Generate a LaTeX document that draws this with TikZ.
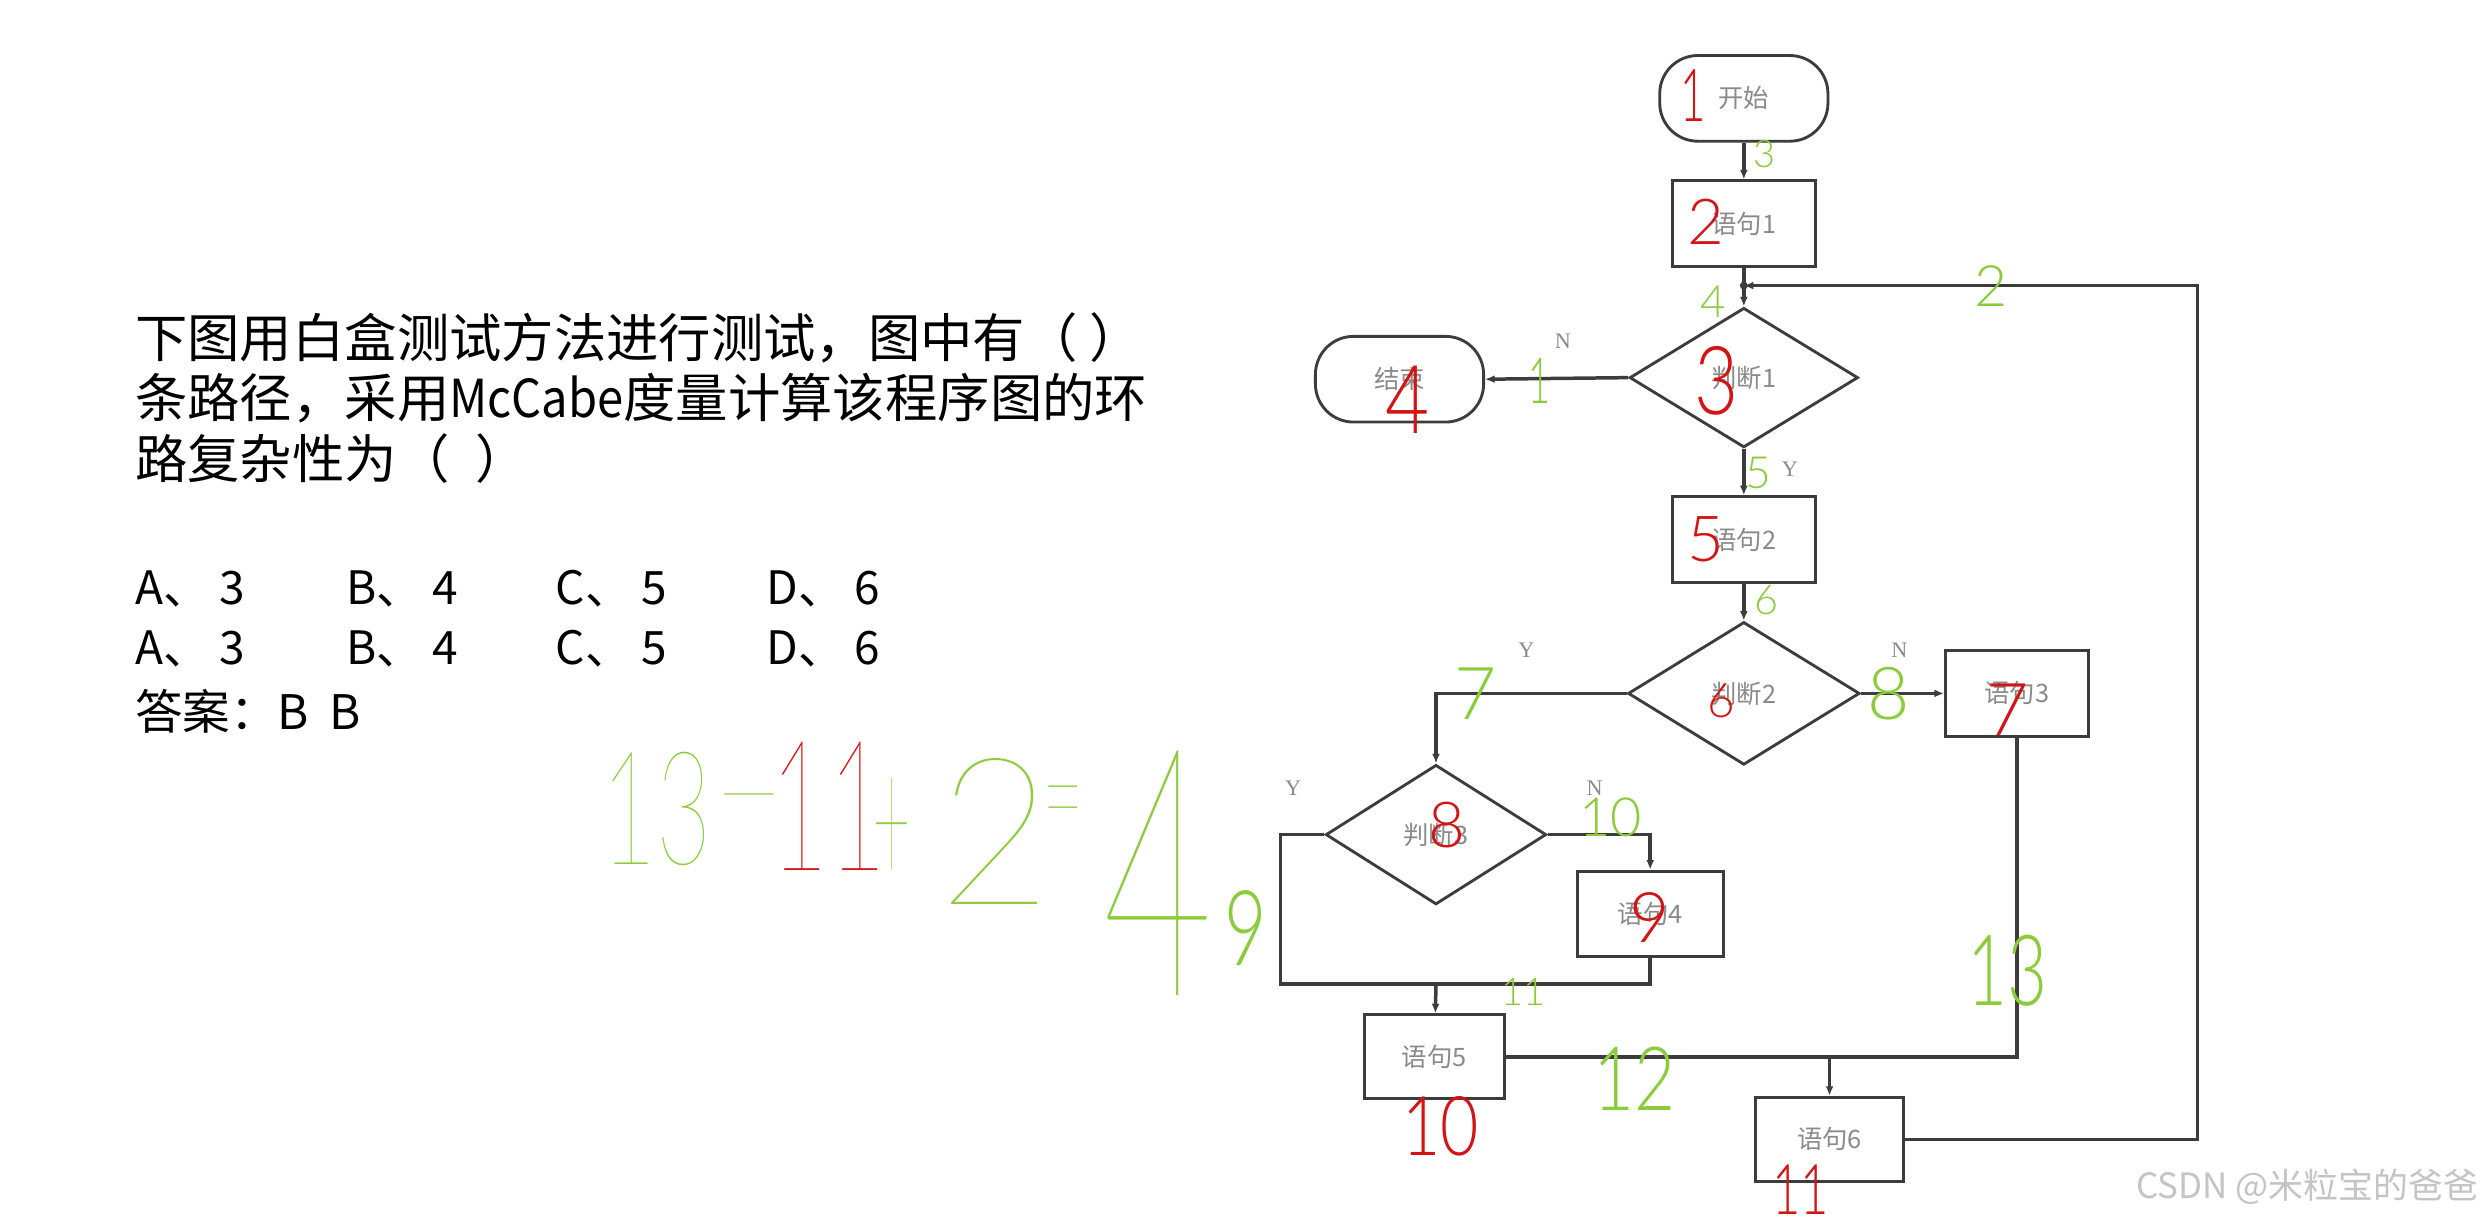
\documentclass[tikz,border=0pt]{standalone}
\usepackage{fontspec}
\usepackage{graphicx}
\setmainfont{Liberation Serif}
\newfontfamily\cjk{Noto Sans CJK SC}
\newfontfamily\handL{Lato Light}
\newfontfamily\handH{Lato Thin}
\usetikzlibrary{shapes.geometric,arrows.meta}
\definecolor{linegray}{HTML}{3C3C3C}
\definecolor{txtgray}{HTML}{8A8A8A}
\definecolor{hred}{HTML}{D21414}
\definecolor{hgreen}{HTML}{8CCB3C}
\definecolor{wm}{HTML}{C4C4C4}
\newcommand{\narrow}[2]{\scalebox{#1}[1]{#2}}
\begin{document}
\begin{tikzpicture}[x=1pt,y=-1pt,
  shp/.style={draw=linegray, line width=1.8pt, fill=white, inner sep=0pt,
     font=\cjk\fontsize{16}{18}\selectfont, text=txtgray},
  box/.style={shp, rectangle, minimum width=90pt, minimum height=54pt},
  term/.style={shp, rectangle, rounded corners=24pt, minimum width=106pt, minimum height=54pt},
  dia/.style={shp, diamond, minimum width=144pt, minimum height=88pt},
  conn/.style={draw=linegray, line width=2.2pt},
  arr/.style={conn, -{Latex[length=6pt,width=5pt]}},
  yn/.style={font=\fontsize{14}{16}\selectfont, text=txtgray},
  qtext/.style={anchor=west, font=\cjk\fontsize{33}{38}\selectfont, inner sep=0pt},
  opt/.style={anchor=west, font=\cjk\fontsize{29}{32}\selectfont, inner sep=0pt},
  rd/.style={text=hred, font=\handL\fontsize{#1}{#1}\selectfont, inner sep=0pt},
  gr/.style={text=hgreen, font=\handL\fontsize{#1}{#1}\selectfont, inner sep=0pt},
  rdH/.style={text=hred, font=\handH\fontsize{#1}{#1}\selectfont, inner sep=0pt},
  grH/.style={text=hgreen, font=\handH\fontsize{#1}{#1}\selectfont, inner sep=0pt}
]
\useasboundingbox[fill=white] (0,0) rectangle (1568,775);

% question text
\node[qtext] (q1) at (85,213) {下图用白盒测试方法进行测试，图中有（ ）};
\node[qtext] (q2) at (85,251) {条路径，采用\narrow{0.9}{McCabe}度量计算该程序图的环};
\node[qtext] (q3) at (85,289) {路复杂性为（\hspace{0.5em}）};
\node[opt] (oa1) at (85,371) {A、 3};
\node[opt] (ob1) at (218,371) {B、 4};
\node[opt] (oc1) at (350,371) {C、 5};
\node[opt] (od1) at (483,371) {D、 6};
\node[opt] (oa2) at (85,409) {A、 3};
\node[opt] (ob2) at (218,409) {B、 4};
\node[opt] (oc2) at (350,409) {C、 5};
\node[opt] (od2) at (483,409) {D、 6};
\node[opt, font=\cjk\fontsize{30}{34}\selectfont] (ans) at (85,448) {答案：B\hspace{0.2em} B};

% flowchart nodes
\node[term] (start) at (1099,62) {开始};
\node[box] (s1) at (1099,141) {语句1};
\coordinate (j1) at (1099,180);
\node[dia] (d1) at (1099,238) {判断1};
\node[term] (end) at (882,239) {结束};
\node[box] (s2) at (1099,340) {语句2};
\node[dia, minimum width=146pt, minimum height=90pt] (d2) at (1099,437) {判断2};
\node[box] (s3) at (1271,437) {语句3};
\node[dia, minimum width=139pt, minimum height=88pt] (d3) at (905,526) {判断3};
\node[box, minimum width=92pt] (s4) at (1040,576) {语句4};
\coordinate (b1) at (807,620);
\coordinate (b2) at (1040,620);
\coordinate (j2) at (905,620);
\node[box, minimum width=88pt, minimum height=53pt] (s5) at (904,666) {语句5};
\coordinate (j3) at (1153,666);
\node[box, minimum width=93pt, minimum height=53pt] (s6) at (1153,718) {语句6};
\coordinate (c1) at (1385,718);
\coordinate (c2) at (1385,180);

% connectors
\draw[arr] (start) -- (s1);
\draw[conn] (s1) -- (j1);
\draw[arr] (j1) -- (d1);
\draw[arr] (d1.west) -- (end.east);
\draw[arr] (d1) -- (s2);
\draw[arr] (s2) -- (d2);
\draw[arr] (d2.east) -- (s3.west);
\draw[arr] (d2.west) -| (d3.north);
\draw[arr] (d3.east) -| (s4.north);
\draw[conn] (d3.west) -| (b1) -- (b2) -- (s4.south);
\draw[arr] (j2) -- (s5);
\draw[conn] (s5.east) -| (s3.south);
\draw[arr] (j3) -- (s6);
\draw[arr] (s6.east) -- (c1) -- (c2) -- (j1);
\fill[linegray] (j1) circle (2.5pt);

% Y / N labels
\node[yn] (n1) at (985,215) {N};
\node[yn] (y1) at (1128,296) {Y};
\node[yn] (y2) at (962,410) {Y};
\node[yn] (n2) at (1197,410) {N};
\node[yn] (y3) at (815,497) {Y};
\node[yn] (n3) at (1005,497) {N};

% handwritten red numbers
\node[rd=46] (r1) at (1067,60) {\narrow{0.6}{1}};
\node[rd=40] (r2) at (1075,140) {2};
\node[rd=60] (r3) at (1082,240) {\narrow{0.8}{3}};
\node[rd=60] (r4) at (887,252) {\narrow{0.8}{4}};
\node[rd=40] (r5) at (1075,340) {5};
\node[rd=30] (r6) at (1085,442) {6};
\node[rd=46] (r7) at (1265,447) {7};
\node[rd=40] (r8) at (912,520) {8};
\node[rd=44] (r9) at (1040,578) {9};
\node[rd=52] (r10) at (908,710) {\narrow{0.8}{10}};
\node[rd=44] (r11) at (1135,750) {\narrow{0.7}{11}};

% handwritten green numbers
\node[gr=24] (g3) at (1112,97) {3};
\node[gr=28] (g4) at (1080,190) {4};
\node[gr=36] (g2) at (1255,180) {2};
\node[gr=40] (g1) at (970,240) {\narrow{0.6}{1}};
\node[gr=28] (g5) at (1108,298) {5};
\node[gr=26] (g6) at (1113,378) {6};
\node[gr=46] (g7) at (930,437) {7};
\node[gr=46] (g8) at (1190,437) {8};
\node[gr=34] (g10) at (1015,515) {10};
\node[gr=66] (g9) at (785,585) {\narrow{0.7}{9}};
\node[gr=24] (g11) at (960,625) {11};
\node[gr=56] (g12) at (1030,680) {\narrow{0.8}{12}};
\node[gr=62] (g13) at (1265,612) {\narrow{0.7}{13}};

% handwritten equation
\node[grH=100] (e1) at (414,510) {\narrow{0.6}{13}};
\node[grH=80] (e2) at (472,512) {–};
\node[rdH=115] (e3) at (522,508) {\narrow{0.55}{11}};
\node[grH=120] (e4) at (562,525) {\narrow{0.35}{+}};
\node[grH=130] (e5) at (627,524) {\narrow{0.95}{2}};
\node[grH=90] (e6) at (670,514) {\narrow{0.5}{=}};
\node[grH=220] (e7) at (730,550) {\narrow{0.55}{4}};

% watermark
\node[anchor=east, text=wm, font=\cjk\fontsize{22}{24}\selectfont, inner sep=0pt] (wmk) at (1562,748) {CSDN @米粒宝的爸爸};
\end{tikzpicture}
\end{document}
